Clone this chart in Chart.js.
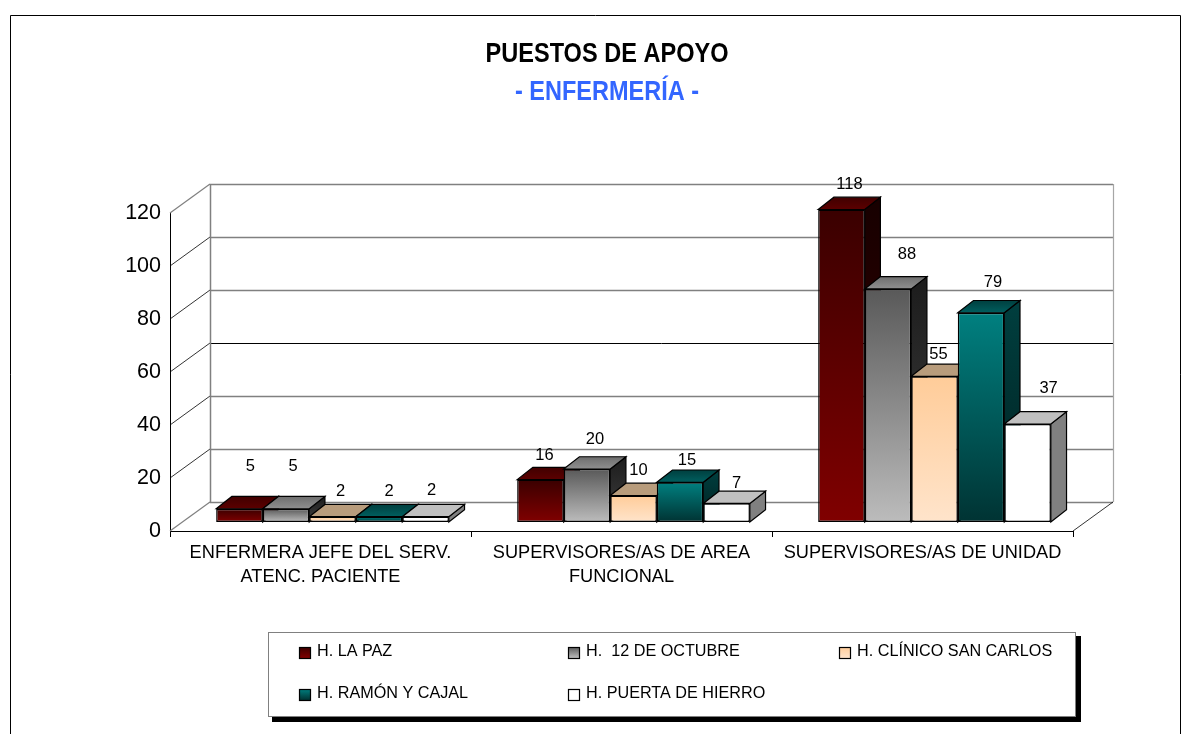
<!DOCTYPE html>
<html lang="es">
<head>
<meta charset="utf-8">
<title>Puestos de apoyo - Enfermería</title>
<style>html,body{margin:0;padding:0;background:#fff}canvas{display:block}</style>
<script src="https://cdn.jsdelivr.net/npm/chart.js@4"></script>
</head>
<body>
<canvas id="c" width="1191" height="734"></canvas>
<script>
const categories = [["ENFERMERA JEFE DEL SERV.", "ATENC. PACIENTE"], ["SUPERVISORES/AS DE AREA", "FUNCIONAL"], "SUPERVISORES/AS DE UNIDAD"];
const hospitals = ["H. LA PAZ", "H.  12 DE OCTUBRE", "H. CLÍNICO SAN CARLOS", "H. RAMÓN Y CAJAL", "H. PUERTA DE HIERRO"];
const laPaz = [5, 16, 118];
const doceOctubre = [5, 20, 88];
const clinico = [2, 10, 55];
const ramonCajal = [2, 15, 79];
const puertaHierro = [2, 7, 37];
const seriesValues = [laPaz, doceOctubre, clinico, ramonCajal, puertaHierro];
const yTicks = [0, 20, 40, 60, 80, 100, 120];

// styles: [top of front face, bottom of front face]
const faceColors = [["#3a0000", "#800000"], ["#595959", "#bcbcbc"], ["#ffcc99", "#ffe4cb"], ["#008080", "#003333"], ["#ffffff", "#ffffff"]];
const topColors = [["#400000", "#5c0000"], ["#6e6e6e", "#8f8f8f"], ["#b89c7c", "#b89c7c"], ["#003f3f", "#005f5f"], ["#c0c0c0", "#c0c0c0"]];
const sideColors = [["#170000", "#3a0000"], ["#1c1c1c", "#404040"], ["#80664d", "#80664d"], ["#003f3f", "#002020"], ["#808080", "#808080"]];
// label placement relative to each bar's top-centre (series, then category)
const labelDx = [[11, 4, 8], [7, 8, 19], [8, 5, 4], [10, 7, 12], [6, 10, 21]];
const labelDy = [[-42, -24, -25], [-42, -30, -34], [-25, -25, -22], [-25, -22, -30], [-26, -20, -36]];
const legendCols = [299, 568, 839];
const legendRows = [652, 694];
// horizontal extents of the two heading lines (the source type is condensed)
const headingSpans = { "PUESTOS DE APOYO": [485.5, 728.5], "- ENFERMERÍA -": [515, 699] };

const DEPTH_X = 40, DEPTH_Y = 29;      // wall offset
const BAR_X = 12, BAR_Y = 9;           // bars sit inside the floor
const SIDE_X = 15.7, SIDE_Y = 12.3;    // bar thickness

function grad(ctx, y0, y1, pair) {
  const g = ctx.createLinearGradient(0, y0, 0, y1);
  g.addColorStop(0, pair[0]); g.addColorStop(1, pair[1]);
  return g;
}
function poly(ctx, pts, fill) {
  ctx.beginPath();
  pts.forEach((p, i) => i ? ctx.lineTo(p[0], p[1]) : ctx.moveTo(p[0], p[1]));
  ctx.closePath();
  ctx.fillStyle = fill; ctx.fill();
  ctx.strokeStyle = "#000"; ctx.lineWidth = 1.2; ctx.stroke();
}
function seg(ctx, x0, y0, x1, y1, color, w) {
  ctx.beginPath(); ctx.moveTo(x0, y0); ctx.lineTo(x1, y1);
  ctx.strokeStyle = color; ctx.lineWidth = w; ctx.stroke();
}

const scene = {
  id: "scene",
  afterLayout(chart) {
    chart.boxes.forEach(b => {
      const span = b.options && headingSpans[b.options.text];
      if (span) { b.left = span[0]; b.right = span[1]; }
    });
  },
  beforeDraw(chart) {
    const c = chart.ctx;
    c.save();
    c.fillStyle = "#fff"; c.fillRect(0, 0, chart.width, chart.height);
    c.beginPath(); c.moveTo(10.5, 734); c.lineTo(10.5, 15.5); c.lineTo(1180.5, 15.5); c.lineTo(1180.5, 734);
    c.strokeStyle = "#000"; c.lineWidth = 1; c.stroke();
    c.restore();
  },
  beforeDatasetsDraw(chart) {
    const c = chart.ctx, y = chart.scales.y, a = chart.chartArea;
    c.save();
    yTicks.forEach(v => {
      const py = Math.round(y.getPixelForValue(v));
      const edge = v === 0 || v === 120;
      seg(c, a.left, py, a.left + DEPTH_X, py - DEPTH_Y, edge ? "#808080" : "#000", edge ? 1.2 : 0.8);
      const black = v === 60;
      seg(c, a.left + DEPTH_X, py - DEPTH_Y + .5, a.right + DEPTH_X, py - DEPTH_Y + .5, black ? "#000" : "#808080", black ? 1 : 1.5);
    });
    const top = Math.round(y.getPixelForValue(120)) - DEPTH_Y, bot = Math.round(y.getPixelForValue(0)) - DEPTH_Y;
    seg(c, a.left + DEPTH_X + .5, top, a.left + DEPTH_X + .5, bot, "#808080", 1.5);
    seg(c, a.right + DEPTH_X + .5, top, a.right + DEPTH_X + .5, bot, "#a6a6a6", 1.2);
    seg(c, a.right, a.bottom, a.right + DEPTH_X, a.bottom - DEPTH_Y, "#000", 0.8);
    c.restore();
  },
  beforeDatasetDraw() { return false; },   // bars are painted together, left to right, below
  afterDatasetsDraw(chart) {
    const c = chart.ctx;
    c.save();
    c.translate(BAR_X, BAR_Y * -1);
    chart.data.datasets.forEach((ds, si) => {
      chart.getDatasetMeta(si).data.forEach(bar => {
        const p = bar.getProps(["x", "y", "base", "width"], true);
        const l = p.x - p.width / 2, r = p.x + p.width / 2;
        poly(c, [[r, p.y], [r + SIDE_X, p.y - SIDE_Y], [r + SIDE_X, p.base - SIDE_Y], [r, p.base]],
          grad(c, p.y - SIDE_Y, p.base, sideColors[si]));
        poly(c, [[l, p.y], [l + SIDE_X, p.y - SIDE_Y], [r + SIDE_X, p.y - SIDE_Y], [r, p.y]],
          grad(c, p.y - SIDE_Y, p.y, topColors[si]));
        bar.draw(c, chart.chartArea);
      });
    });
    c.restore();
    // value labels
    c.save();
    c.font = "16.5px 'Liberation Sans', Arial, sans-serif";
    c.fillStyle = "#000"; c.textAlign = "center"; c.textBaseline = "middle";
    chart.data.datasets.forEach((ds, si) => {
      chart.getDatasetMeta(si).data.forEach((bar, ci) => {
        const p = bar.getProps(["x", "y"], true);
        c.fillText(String(ds.data[ci]), p.x + BAR_X + labelDx[si][ci], p.y - BAR_Y + labelDy[si][ci]);
      });
    });
    c.restore();
    // legend
    c.save();
    c.fillStyle = "#000"; c.fillRect(272, 636, 809, 86);
    c.fillStyle = "#fff"; c.fillRect(268, 632, 808, 85);
    c.strokeStyle = "#808080"; c.lineWidth = 1; c.strokeRect(268.5, 632.5, 807, 84);
    c.font = "16.2px 'Liberation Sans', Arial, sans-serif";
    c.textAlign = "left"; c.textBaseline = "middle";
    chart.data.datasets.forEach((ds, si) => {
      const col = legendCols[si % 3], row = legendRows[Math.floor(si / 3)];
      c.fillStyle = grad(c, row - 5, row + 6, faceColors[si]);
      c.fillRect(col + .5, row - 5 + .5, 11, 11);
      c.strokeStyle = "#000"; c.lineWidth = 1.2; c.strokeRect(col + .5, row - 5 + .5, 11, 11);
      c.fillStyle = "#000";
      c.fillText(ds.label, col + 18, row);
    });
    c.restore();
  }
};

new Chart(document.getElementById("c"), {
  type: "bar",
  plugins: [scene],
  data: {
    labels: categories,
    datasets: seriesValues.map((values, si) => ({
      label: hospitals[si],
      data: values,
      borderColor: "#000",
      borderWidth: 1.4,
      borderSkipped: false,
      backgroundColor(ctx) {
        const chart = ctx.chart, y = chart.scales.y;
        if (ctx.type !== "data" || !y) return faceColors[si][0];
        const y0 = y.getPixelForValue(ctx.raw), y1 = y.getPixelForValue(0);
        if (!isFinite(y0) || !isFinite(y1)) return faceColors[si][0];
        return grad(chart.ctx, y0, y1, faceColors[si]);
      }
    }))
  },
  options: {
    responsive: false,
    animation: false,
    layout: { padding: { left: 0, right: 118, top: 0, bottom: 0 } },
    datasets: { bar: { categoryPercentage: 0.773, barPercentage: 1 } },
    plugins: {
      legend: { display: false },
      tooltip: { enabled: false },
      title: {
        display: true, text: "PUESTOS DE APOYO", color: "#000",
        font: { family: "'Liberation Sans', Arial, sans-serif", size: 28, weight: "bold", lineHeight: 1.2 },
        padding: { top: 37, bottom: 5 }
      },
      subtitle: {
        display: true, text: "- ENFERMERÍA -", color: "#3366ff",
        font: { family: "'Liberation Sans', Arial, sans-serif", size: 28, weight: "bold", lineHeight: 1.2 },
        padding: { top: 0, bottom: 104 }
      }
    },
    scales: {
      x: {
        grid: { drawOnChartArea: false, color: "#000", tickLength: 6, lineWidth: 1 },
        border: { color: "#000", width: 1 },
        ticks: { color: "#000", padding: 4, maxRotation: 0, minRotation: 0, autoSkip: false,
                 font: { family: "'Liberation Sans', Arial, sans-serif", size: 18.2, lineHeight: 1.32 } },
        afterFit(s) { s.height = 203; }
      },
      y: {
        min: 0, max: 120,
        grid: { display: false },
        border: { display: true, color: "#000", width: 1 },
        afterBuildTicks(s) { s.ticks = yTicks.map(v => ({ value: v })); },
        ticks: { color: "#000", padding: 1, font: { family: "'Liberation Sans', Arial, sans-serif", size: 21.5 } },
        afterFit(s) { s.width = 170; }
      }
    }
  }
});
</script>
</body>
</html>
